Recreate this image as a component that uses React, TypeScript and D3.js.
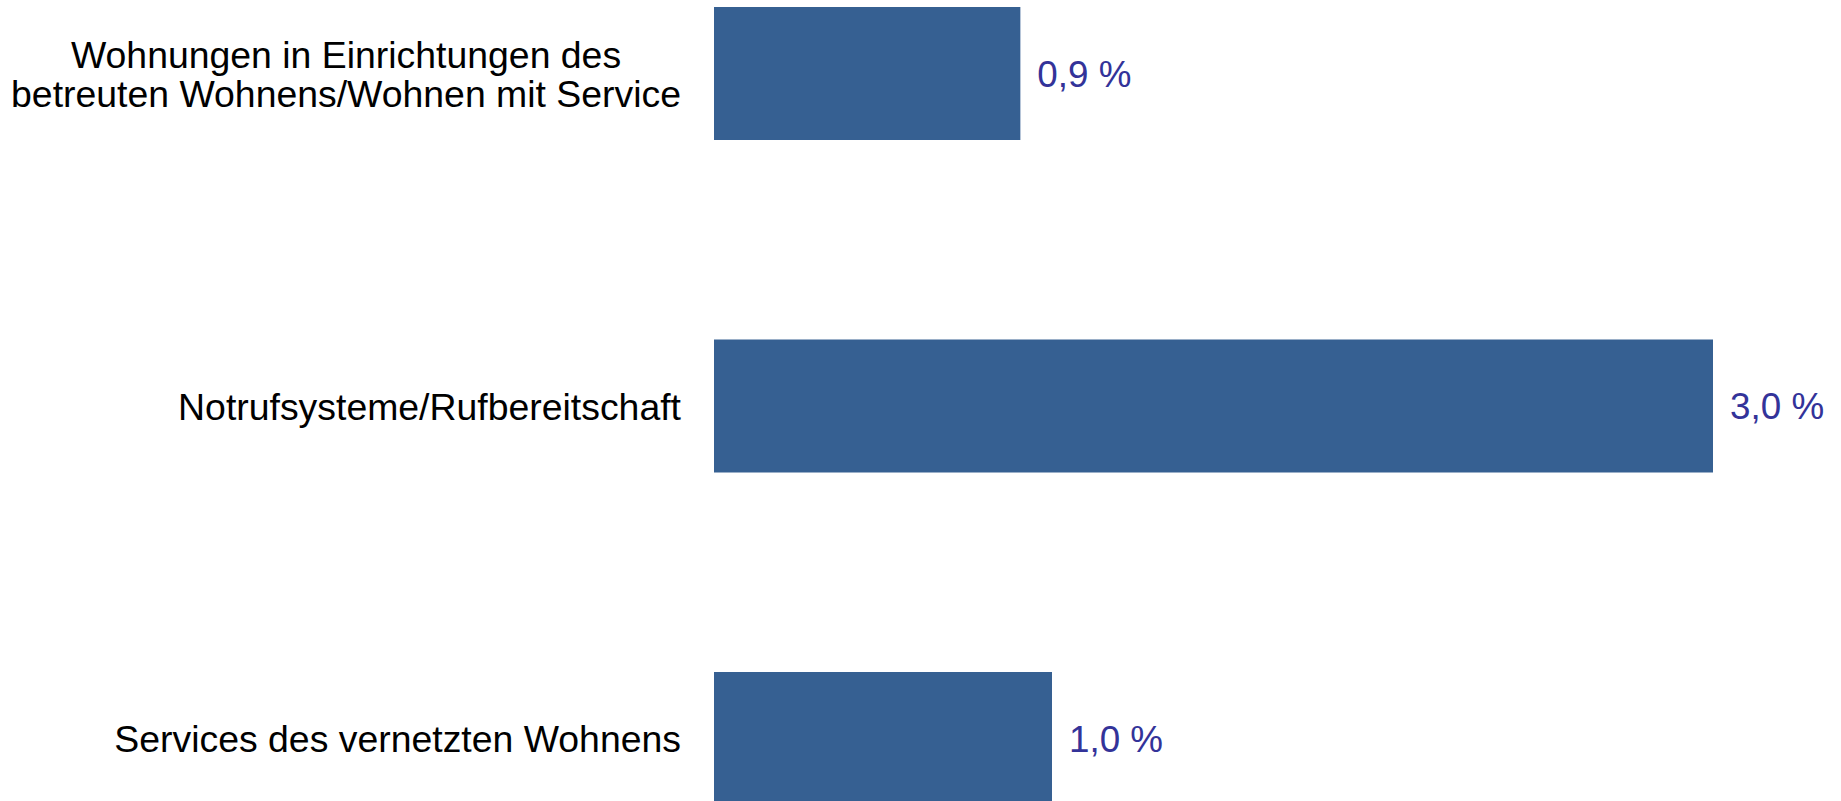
import React, { useEffect, useRef } from "react";
import * as d3 from "d3";

const categories: string[][] = [
  ["Wohnungen in Einrichtungen des", "betreuten Wohnens/Wohnen mit Service"],
  ["Notrufsysteme/Rufbereitschaft"],
  ["Services des vernetzten Wohnens"],
];
const values: number[] = [0.92, 3.0, 1.015];
const keys: string[] = ["a", "b", "c"];

const W = 1841;
const H = 801;

export default function App() {
  const ref = useRef<SVGSVGElement | null>(null);

  useEffect(() => {
    document.body.style.margin = "0";
    const svg = d3.select(ref.current);
    svg.selectAll("*").remove();

    const x = d3.scaleLinear().domain([0, 3]).range([714, 1713]);
    const y = d3.scaleBand<string>().domain(keys).range([7, 805]).paddingInner(0.6).paddingOuter(0);

    const fmt = (v: number) => d3.format(".1f")(v).replace(".", ",") + " %";

    svg
      .selectAll("rect.bar")
      .data(values)
      .join("rect")
      .attr("class", "bar")
      .attr("x", x(0))
      .attr("y", (_, i) => y(keys[i])!)
      .attr("width", (d) => x(d) - x(0))
      .attr("height", y.bandwidth())
      .attr("fill", "#366092");

    svg
      .selectAll("text.val")
      .data(values)
      .join("text")
      .attr("class", "val")
      .attr("x", (d) => x(d) + 17)
      .attr("y", (_, i) => y(keys[i])! + y.bandwidth() / 2 + 13)
      .attr("font-family", "Liberation Sans, Arial, sans-serif")
      .attr("font-size", 36.8)
      .attr("fill", "#333399")
      .text((d) => fmt(d));

    const labelRight = 681;
    const lineH = 39;
    categories.forEach((lines, i) => {
      const cy = y(keys[i])! + y.bandwidth() / 2;
      const g = svg.append("g");
      const texts = lines.map((line, j) =>
        g
          .append("text")
          .attr("y", cy + 13.5 + (j - (lines.length - 1) / 2) * lineH)
          .attr("font-family", "Liberation Sans, Arial, sans-serif")
          .attr("font-size", 37.4)
          .attr("fill", "#000")
          .attr("text-anchor", "middle")
          .text(line)
      );
      const maxW = d3.max(texts, (t) => (t.node() as SVGTextElement).getComputedTextLength()) || 0;
      texts.forEach((t) => t.attr("x", labelRight - maxW / 2));
    });
  }, []);

  return (
    <svg
      ref={ref}
      width={W}
      height={H}
      style={{ position: "absolute", left: 0, top: 0, background: "#fff" }}
    />
  );
}
